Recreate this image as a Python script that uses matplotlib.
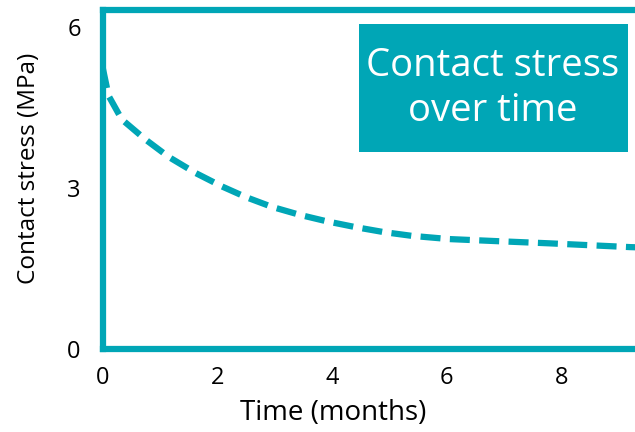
import matplotlib
matplotlib.use("Agg")
from matplotlib import pyplot as plt
from matplotlib.patches import Rectangle

# values
time_months = [0.0, 0.1, 0.33, 0.75, 1.15, 1.62, 2.08, 2.5, 2.95, 3.44, 3.91, 4.42, 4.9, 5.39, 6.04, 6.9, 7.8, 9.2, 9.5]
stress_mpa = [5.23, 4.72, 4.28, 3.9, 3.58, 3.28, 3.03, 2.83, 2.65, 2.5, 2.38, 2.27, 2.18, 2.11, 2.05, 2.01, 1.97, 1.9, 1.89]
x_ticks = [0, 2, 4, 6, 8]
y_ticks = [0, 3, 6]

teal = "#00A6B6"
plt.rcParams["font.family"] = ["Open Sans", "DejaVu Sans"]

fig = plt.figure(figsize=(6.35, 4.32), dpi=100)
ax = fig.add_axes([0.162, 0.192, 0.85, 0.785])

ax.plot(time_months, stress_mpa, color=teal, lw=4.5, linestyle=(0, (3.2, 1.5)),
        solid_capstyle="butt", dash_capstyle="butt")

ax.set_xlim(0, 0.85 * 635 / 57.3)
ax.set_ylim(0, 6.32)
ax.set_xticks(x_ticks)
ax.set_yticks(y_ticks)
ax.tick_params(axis="x", length=0, labelsize=17, pad=12)
ax.tick_params(axis="y", length=0, labelsize=17, pad=16)
for s in ["left", "bottom", "top"]:
    ax.spines[s].set_color(teal)
    ax.spines[s].set_linewidth(4.5)
ax.spines["right"].set_visible(False)

ax.set_xlabel("Time (months)", fontsize=20)
ax.xaxis.set_label_coords(0.426, -0.148)
ax.set_ylabel("Contact stress (MPa)", fontsize=17.5)
ax.yaxis.set_label_coords(-0.115, 0.534)

# title box
fig.patches.append(Rectangle((0.565, 0.648), 0.424, 0.296, transform=fig.transFigure,
                             facecolor=teal, edgecolor="none", zorder=5))
fig.text(0.776, 0.796, "Contact stress\nover time", color="white", fontsize=27.5,
         ha="center", va="center", linespacing=1.25, zorder=6)

fig.savefig("out.png", dpi=100)
